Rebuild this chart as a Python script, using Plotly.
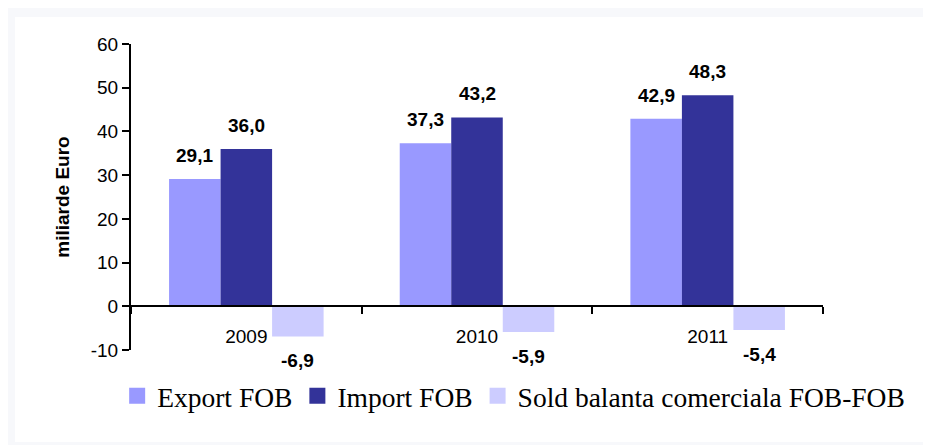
import plotly.graph_objects as go

# data
years = ["2009", "2010", "2011"]
export_fob = [29.1, 37.3, 42.9]
import_fob = [36.0, 43.2, 48.3]
sold_fob = [-6.9, -5.9, -5.4]
series_names = ["Export FOB", "Import FOB", "Sold balanta comerciala FOB-FOB"]
series_colors = ["#9999FF", "#333399", "#CCCCFF"]
y_ticks = [-10, 0, 10, 20, 30, 40, 50, 60]

# layout numbers (pixels); the page body adds an 8px offset
W, H = 923, 437
ml, mr, mt, mb = 123, 108, 36, 95
bargap = 0.33
plot_w = W - ml - mr
plot_h = H - mt - mb
bar_px = plot_w / len(years) * (1 - bargap) / 3

fig = go.Figure()
all_values = [export_fob, import_fob, sold_fob]
for name, vals, col in zip(series_names, all_values, series_colors):
    fig.add_trace(go.Bar(x=years, y=vals, name=name, marker_color=col,
                         marker_line_width=0, showlegend=False))
for name, col in zip(series_names, series_colors):
    # legend entry with a bigger square swatch
    fig.add_trace(go.Scatter(x=[years[0]], y=[None], mode="markers", name=name,
                             marker=dict(symbol="square", size=18, color=col)))

# value labels (x given as category index)
annotations = []
for i, vals in enumerate(all_values):
    for j, v in enumerate(vals):
        annotations.append(dict(
            x=j, y=v, xref="x", yref="y",
            text=f"{v:.1f}".replace(".", ","),
            showarrow=False,
            xshift=(i - 1) * bar_px,
            yshift=11 if v >= 0 else -12,
            yanchor="bottom" if v >= 0 else "top",
            font=dict(family="Arial, Liberation Sans", size=19, color="black", weight="bold"),
        ))

fig.update_layout(
    width=W, height=H,
    margin=dict(l=ml, r=mr, t=mt, b=mb),
    paper_bgcolor="#f7f8fb",
    plot_bgcolor="white",
    barmode="group",
    bargap=bargap,
    bargroupgap=0,
    annotations=annotations,
    font=dict(family="Arial, Liberation Sans", size=19, color="black"),
    legend=dict(orientation="h", x=-0.02, xanchor="left", y=-0.15, yanchor="middle",
                font=dict(family="Times New Roman, Liberation Serif", size=27.5, color="black"),
                bgcolor="rgba(0,0,0,0)", itemsizing="trace"),
    shapes=[dict(type="rect", xref="paper", yref="paper",
                 x0=(7 - ml) / plot_w, x1=(W - ml + 5) / plot_w,
                 y0=-(434 - (H - mb)) / plot_h, y1=((H - mb) - 9) / plot_h,
                 fillcolor="white", line_width=0, layer="below")],
)

fig.update_yaxes(
    range=[-10, 60], tickvals=y_ticks, ticktext=[str(t) for t in y_ticks],
    showgrid=False, zeroline=False,
    showline=True, linecolor="black", linewidth=2,
    ticks="outside", ticklen=7, tickwidth=2, tickcolor="black",
    title=dict(text="miliarde Euro", standoff=16,
               font=dict(family="Arial, Liberation Sans", size=19, weight="bold")),
)
fig.update_xaxes(
    type="category", range=[-0.5, len(years) - 0.5],
    anchor="free", position=10 / 70,
    showline=True, linecolor="black", linewidth=2,
    ticks="outside", tickson="boundaries", ticklen=7, tickwidth=2, tickcolor="black",
    ticklabelstandoff=13, showgrid=False,
)

fig.write_html("out.html")
